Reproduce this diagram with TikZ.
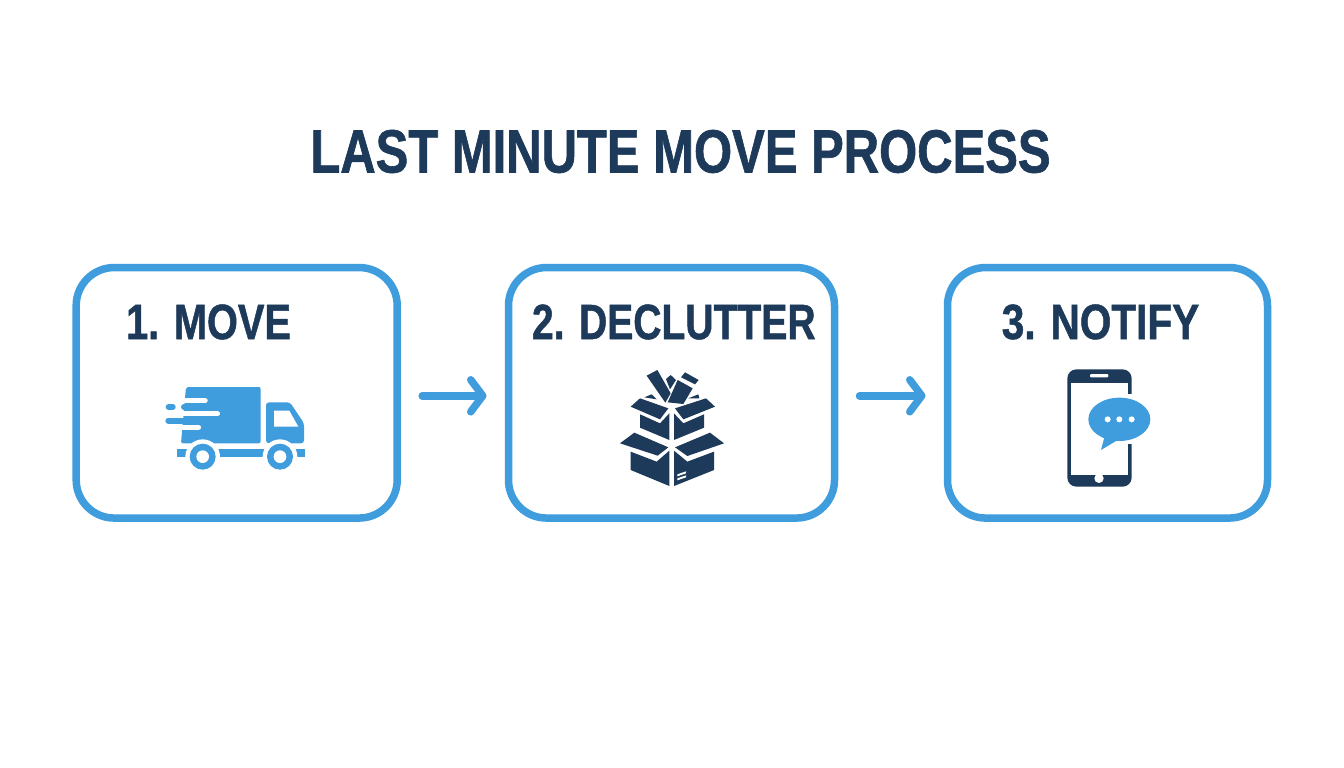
\documentclass[tikz,border=0pt]{standalone}
\usepackage{fontspec}
\usetikzlibrary{arrows.meta}
\newfontface\headfont[FakeStretch=0.803,FakeBold=1]{Liberation Sans Bold}
\definecolor{stepblue}{HTML}{3F9CDD}
\definecolor{stepnavy}{HTML}{1D3A5A}
\begin{document}
\begin{tikzpicture}[x=1pt,y=-1pt,
  stepbox/.style={draw=stepblue,line width=7.5pt,rounded corners=38pt,outer sep=0pt,inner sep=0pt,fill=white,minimum height=250.5pt},
  steplabel/.style={text=stepnavy,inner sep=0pt,font=\headfont\fontsize{49.5}{50}\selectfont},
  flow/.style={draw=stepblue,line width=7.5pt,line cap=round,shorten <=25pt,shorten >=22pt,-{Straight Barb[length=12pt,width=32pt,round]}},
  navy/.style={fill=stepnavy,draw=none},
  blue/.style={fill=stepblue,draw=none},
  gap/.style={fill=white,draw=none}]
\fill[white] (0,0) rectangle (1344,768);
\useasboundingbox (0,0) rectangle (1344,768);
\node [text=stepnavy,inner sep=0pt,font=\headfont\fontsize{61}{61}\selectfont] (title) at (680.5,151.5) {LAST MINUTE MOVE PROCESS};
\node [stepbox,minimum width=321pt] (move) at (236.7,392.8) {};
\node [stepbox,minimum width=326pt] (declutter) at (671.5,392.8) {};
\node [stepbox,minimum width=320pt] (notify) at (1107.5,392.8) {};
\node [steplabel] (movelabel) at (208.5,322) {1. MOVE};
\node [steplabel] (declutterlabel) at (673.8,322) {\scalebox{.983}[1]{2. DECLUTTER}};
\node [steplabel] (notifylabel) at (1100.5,322) {\scalebox{1.02}[1]{3. NOTIFY}};
\draw [flow,transform canvas={yshift=-3pt}] (move.east) -- (declutter.west);
\draw [flow,transform canvas={yshift=-3pt}] (declutter.east) -- (notify.west);
\begin{scope}[shift={(150,375)},scale=1/3]
  \fill [blue,rounded corners=2pt] (108,36) -- (332,36) -- (332,205) -- (93,205) -- cycle;
  \fill [blue,rounded corners=3pt] (348,82) -- (420,82) -- (462,145) -- (462,205) -- (348,205) -- cycle;
  \fill [gap] (372,107) -- (418,107) -- (445,155) -- (372,155) -- cycle;
  \foreach \ya/\xb in {77/165,116/202,157/145}
    \draw [white,line width=5.5pt,line cap=round] (0,\ya) -- (\xb,\ya);
  \foreach \ya/\xa/\xb in {96/56/68,96/102/200,136.5/55/180}
    \draw [stepblue,line width=6pt,line cap=round] (\xa,\ya) -- (\xb,\ya);
  \fill [blue] (82,222) rectangle (465,247);
  \foreach \xa in {158,390} {
    \fill [gap] (\xa,245) circle (52);
    \fill [blue] (\xa,245) circle (39);
    \fill [gap] (\xa,245) circle (19);
  }
\end{scope}
\begin{scope}[shift={(600,360)},scale=1/3]
  \fill [navy] (140,47) -- (172,30) -- (212,100) -- (196,128) -- cycle;
  \fill [navy] (198,57) -- (212,45) -- (228,60) -- (210,88) -- cycle;
  \fill [navy] (203,127) -- (233,60) -- (278,85) -- (250,132) -- cycle;
  \fill [navy] (243,52) -- (255,37) -- (296,60) -- (285,73) -- cycle;
  \fill [navy] (133,112) -- (155,103) -- (170,118) -- cycle;
  \fill [navy] (265,115) -- (295,103) -- (298,115) -- cycle;
  \fill [navy] (92,140) -- (120,115) -- (205,145) -- (180,178) -- cycle;
  \fill [navy] (225,145) -- (318,115) -- (345,140) -- (250,178) -- cycle;
  \fill [navy] (120,163) -- (180,190) -- (208,160) -- (208,240) -- (120,203) -- cycle;
  \fill [navy] (222,160) -- (250,190) -- (312,163) -- (312,203) -- (222,240) -- cycle;
  \fill [navy] (60,250) -- (103,218) -- (205,262) -- (173,287) -- cycle;
  \fill [navy] (225,262) -- (330,218) -- (372,250) -- (262,288) -- cycle;
  \fill [navy] (92,275) -- (170,305) -- (208,272) -- (208,378) -- (92,330) -- cycle;
  \fill [navy] (222,272) -- (262,305) -- (342,275) -- (342,330) -- (222,378) -- cycle;
  \fill [gap] (232,343) -- (258,334) -- (258,340) -- (232,349) -- cycle;
  \fill [gap] (232,355) -- (258,346) -- (258,352) -- (232,361) -- cycle;
\end{scope}
\begin{scope}[shift={(1040,360)},scale=1/3]
  \fill [navy,rounded corners=9pt] (82,28) rectangle (275,380);
  \fill [gap] (93,68) rectangle (263,345);
  \fill [gap,rounded corners=1pt] (150,42) rectangle (205,52);
  \fill [gap] (177,355) circle (14);
  \fill [gap] (263,102) rectangle (280,252);
  \fill [blue] (238,178) ellipse (93 and 65);
  \fill [blue] (195,225) -- (183,270) -- (240,236) -- cycle;
  \foreach \xa in {203,238,275}
    \fill [gap] (\xa,178) circle (9);
\end{scope}
\end{tikzpicture}
\end{document}
